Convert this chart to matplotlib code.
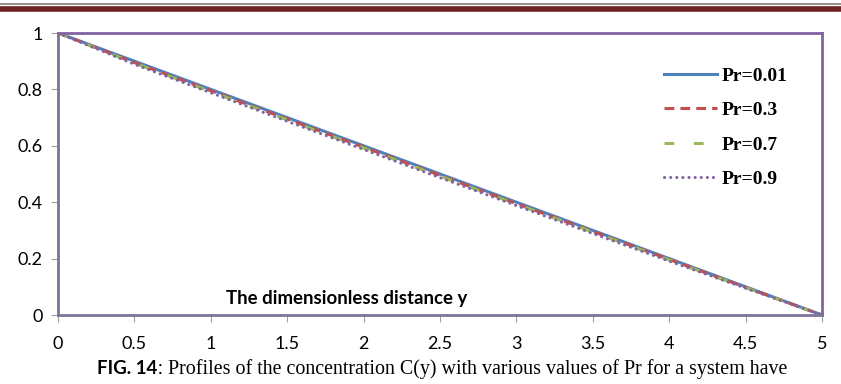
import matplotlib
matplotlib.use("Agg")
import matplotlib.pyplot as plt
from matplotlib.lines import Line2D

y_dist = [0, 0.5, 1, 1.5, 2, 2.5, 3, 3.5, 4, 4.5, 5]
c_pr001 = [1.0, 0.900, 0.800, 0.700, 0.600, 0.500, 0.400, 0.300, 0.200, 0.100, 0.0]
c_pr03 = [1.0, 0.895, 0.795, 0.695, 0.595, 0.495, 0.395, 0.296, 0.197, 0.098, 0.0]
c_pr07 = [1.0, 0.893, 0.792, 0.692, 0.592, 0.492, 0.393, 0.294, 0.195, 0.097, 0.0]
c_pr09 = [1.0, 0.889, 0.788, 0.687, 0.587, 0.487, 0.388, 0.289, 0.191, 0.095, 0.0]
labels = ["Pr=0.01", "Pr=0.3", "Pr=0.7", "Pr=0.9"]
x_ticks = [0, 0.5, 1, 1.5, 2, 2.5, 3, 3.5, 4, 4.5, 5]
x_tick_labels = ["0", "0.5", "1", "1.5", "2", "2.5", "3", "3.5", "4", "4.5", "5"]
y_ticks = [0, 0.2, 0.4, 0.6, 0.8, 1]
y_tick_labels = ["0", "0.2", "0.4", "0.6", "0.8", "1"]

SANS = ["Lato", "DejaVu Sans"]
SERIF = ["Liberation Serif", "DejaVu Serif"]

W, H = 841, 384
fig = plt.figure(figsize=(W / 100, H / 100), dpi=100)
ax = fig.add_axes([58 / W, 1 - 315 / H, (822 - 58) / W, (315 - 33) / H])

colors = ["#4F81BD", "#C0504D", "#9BBB59", "#8064A2"]
series = [c_pr001, c_pr03, c_pr07, c_pr09]
styles = ["-", (0, (3.2, 2.0)), (0, (3.2, 6.4)), (0, (0.05, 1.95))]
caps = ["butt", "butt", "butt", "round"]
for s, c, ls, cap, lab in zip(series, colors, styles, caps, labels):
    ax.plot(y_dist, s, color=c, lw=2.2, linestyle=ls, dash_capstyle=cap, label=lab)

ax.set_xlim(0, 5)
ax.set_ylim(0, 1)
ax.set_xticks(x_ticks)
ax.set_xticklabels(x_tick_labels)
ax.set_yticks(y_ticks)
ax.set_yticklabels(y_tick_labels)
for sp in ax.spines.values():
    sp.set_color("#8064A2")
    sp.set_linewidth(2)
ax.spines["left"].set_color("#7F7399")
ax.spines["bottom"].set_color("#7F7399")
ax.tick_params(axis="x", direction="out", length=5, color="#A0A0A0", pad=10,
               labelsize=13, labelcolor="black")
ax.tick_params(axis="y", direction="out", length=5, color="#A0A0A0", pad=6,
               labelsize=13, labelcolor="black")
for t in ax.get_xticklabels() + ax.get_yticklabels():
    t.set_family(SANS)

ax.text(1.89, 0.06, "The dimensionless distance y", ha="center", va="center",
        fontsize=13.4, fontweight="bold", family=SANS)

leg = ax.legend(loc="upper left", bbox_to_anchor=((664 - 58) / 764, 1 - (67 - 33) / 282),
                frameon=False, borderaxespad=0, borderpad=0,
                prop={"family": SERIF, "weight": "bold", "size": 14},
                handlelength=2.7, labelspacing=0.87, handletextpad=0.27)

# header band
fig.add_artist(Line2D([0, 1], [1 - 3.5 / H, 1 - 3.5 / H], color="#8C7C74", lw=1.2))
fig.add_artist(Line2D([0, 1], [1 - 8.5 / H, 1 - 8.5 / H], color="#6B2420", lw=4))

# caption
fig.canvas.draw()
r = fig.canvas.get_renderer()
cy = 1 - 369 / H
t1 = fig.text(97 / W, cy, "FIG. 14", fontsize=13.5, fontweight="bold",
              family=SANS, va="center", ha="left")
x1 = t1.get_window_extent(r).x1
t2 = fig.text(x1 / W, cy, ":", fontsize=13.5, family=SANS, va="center", ha="left")
x2 = t2.get_window_extent(r).x1
fig.text(x2 / W + 6 / W, cy,
         "Profiles of the concentration C(y) with various values of Pr for a system have",
         fontsize=14.4, family=SERIF, va="center", ha="left")

fig.savefig("out.png", dpi=100)
